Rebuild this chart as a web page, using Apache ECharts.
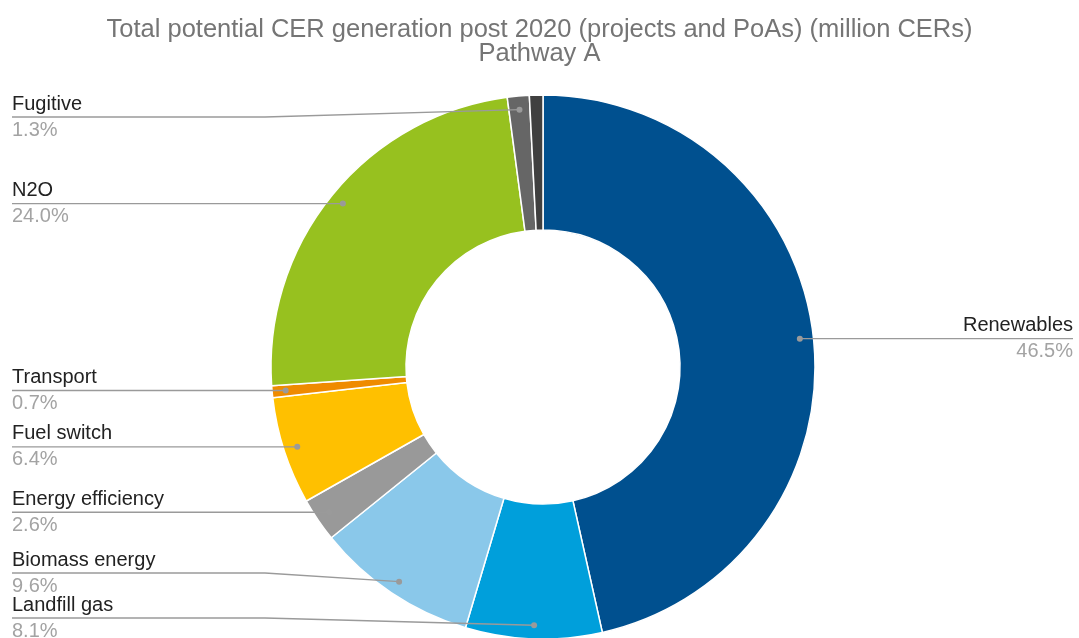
<!DOCTYPE html>
<html>
<head>
<meta charset="utf-8">
<script src="https://cdn.jsdelivr.net/npm/echarts@6/dist/echarts.min.js"></script>
<style>
  html, body { margin: 0; padding: 0; background: #fff; }
  #chart { width: 1079px; height: 638px; }
</style>
</head>
<body>
<div id="chart"></div>
<script>
// Sectors, clockwise from 12 o'clock
const categories = ['Renewables', 'Landfill gas', 'Biomass energy', 'Energy efficiency',
  'Fuel switch', 'Transport', 'N2O', 'Fugitive', 'Other'];
// Share of total potential CER generation (%)
const shares = [46.5, 8.1, 9.6, 2.6, 6.4, 0.7, 24.0, 1.3, 0.8];
// Which sectors carry a callout label
const labelled = [true, true, true, true, true, true, true, true, false];

const palette = ['#00508f', '#009fdb', '#8ac8ea', '#999999', '#ffc000',
  '#ef8b00', '#97c11f', '#666666', '#404040'];

const FONT = 'Liberation Sans, Arial, sans-serif';
const LINE_COLOR = '#9a9a9a';
const CX = 543, CY = 367, R_OUT = 272, R_IN = 137;
const DOT_R = 0.95;          // callout dot sits at 95% of the outer radius
const LEFT_EDGE = 12, RIGHT_EDGE = 1073;
const LABEL_TOP = 117, LABEL_BOTTOM = 618, LABEL_GAP = 45;

const total = shares.reduce((a, b) => a + b, 0);

// mid-angle (in share units) of every sector
const mids = [];
{
  let cum = 0;
  shares.forEach(v => { mids.push(cum + v / 2); cum += v; });
}
function dotPoint(i) {
  const a = mids[i] / total * 2 * Math.PI;
  const r = R_OUT * DOT_R;
  return [CX + r * Math.sin(a), CY - r * Math.cos(a)];
}

// vertical placement of callouts: start level with the dot, keep inside
// the plot band and push neighbours apart from the bottom up
const labelY = shares.map((_, i) => dotPoint(i)[1]);
const isLeft = shares.map((_, i) => dotPoint(i)[0] < CX);
[true, false].forEach(side => {
  const idx = shares.map((_, i) => i)
    .filter(i => labelled[i] && isLeft[i] === side)
    .sort((a, b) => labelY[a] - labelY[b]);
  idx.forEach(i => { labelY[i] = Math.min(Math.max(labelY[i], LABEL_TOP), LABEL_BOTTOM); });
  for (let k = idx.length - 2; k >= 0; k--) {
    labelY[idx[k]] = Math.min(labelY[idx[k]], labelY[idx[k + 1]] - LABEL_GAP);
  }
  for (let k = 1; k < idx.length; k++) {
    labelY[idx[k]] = Math.max(labelY[idx[k]], labelY[idx[k - 1]] + LABEL_GAP);
  }
});

const pieData = categories.map((name, i) => ({
  name: name,
  value: shares[i],
  itemStyle: { color: palette[i] },
  label: { show: labelled[i], align: isLeft[i] ? 'left' : 'right' }
}));

// one callout (leader line + dot) per labelled sector, in polar [radius, angle]
const calloutData = categories.map((name, i) => [DOT_R, mids[i], i])
  .filter((_, i) => labelled[i]);

const chart = echarts.init(document.getElementById('chart'), null, { renderer: 'canvas' });
chart.setOption({
  animation: false,
  backgroundColor: '#ffffff',
  title: {
    text: 'Total potential CER generation post 2020 (projects and PoAs) (million CERs)\nPathway A',
    left: 'center',
    top: 13,
    textStyle: {
      fontFamily: FONT,
      fontSize: 25.5,
      lineHeight: 24,
      fontWeight: 'normal',
      color: '#757575'
    }
  },
  polar: { center: [CX, CY], radius: R_OUT },
  angleAxis: { type: 'value', min: 0, max: total, startAngle: 90, clockwise: true, show: false },
  radiusAxis: { type: 'value', min: 0, max: 1, show: false },
  series: [
    {
      type: 'pie',
      center: [CX, CY],
      radius: [R_IN, R_OUT],
      startAngle: 90,
      clockwise: true,
      avoidLabelOverlap: false,
      silent: true,
      itemStyle: { borderColor: '#ffffff', borderWidth: 1.5 },
      label: {
        show: true,
        position: 'outside',
        formatter: p => '{n|' + p.name + '}\n{p|' + p.value.toFixed(1) + '%}',
        rich: {
          n: { fontFamily: FONT, fontSize: 20, color: '#222222', lineHeight: 26 },
          p: { fontFamily: FONT, fontSize: 20, color: '#a3a3a3', lineHeight: 26 }
        }
      },
      labelLine: { show: false },
      labelLayout: function (params) {
        const i = params.dataIndex;
        if (!labelled[i]) return {};
        const left = isLeft[i];
        return {
          x: left ? LEFT_EDGE : RIGHT_EDGE,
          y: labelY[i],
          align: left ? 'left' : 'right',
          verticalAlign: 'middle'
        };
      },
      data: pieData,
      z: 2
    },
    {
      type: 'custom',
      coordinateSystem: 'polar',
      silent: true,
      encode: { radius: 0, angle: 1 },
      data: calloutData,
      renderItem: function (params, api) {
        const i = api.value(2);
        const p = api.coord([api.value(0), api.value(1)]);
        const left = isLeft[i];
        const y = labelY[i];
        const bendX = left ? CX - R_OUT - 6 : CX + R_OUT + 6;
        const endX = left ? LEFT_EDGE : RIGHT_EDGE;
        return {
          type: 'group',
          children: [
            {
              type: 'polyline',
              shape: { points: [p, [bendX, y], [endX, y]] },
              style: { stroke: LINE_COLOR, lineWidth: 1.3, fill: null }
            },
            {
              type: 'circle',
              shape: { cx: p[0], cy: p[1], r: 3 },
              style: { fill: LINE_COLOR }
            }
          ]
        };
      },
      z: 5
    }
  ]
});
</script>
</body>
</html>
